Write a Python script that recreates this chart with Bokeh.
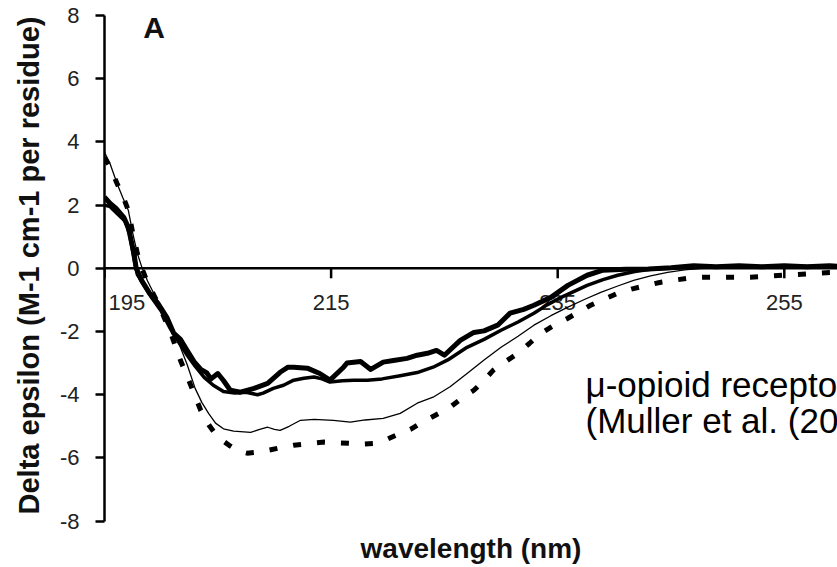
import math
from bokeh.plotting import figure
from bokeh.models import Range1d, FixedTicker, Span, Label
from bokeh.embed import file_html
from bokeh.resources import INLINE
from bokeh.core.properties import value

FONT = "Liberation Sans"

# ---------------- data ----------------
Y_TICKS = [-8, -6, -4, -2, 0, 2, 4, 6, 8]
X_TICKS = [195, 215, 235, 255]
X_TICK_LABELS = ["195", "215", "235", "255"]

# heaviest solid line
W1 = [195.0, 195.5, 196.0, 196.7, 197.1, 197.6, 197.8, 198.3, 199.0, 199.7, 200.5, 201.1,
      201.7, 202.3, 202.9, 203.5, 204.0, 204.4, 205.0, 205.5, 206.1, 207.0, 208.2, 209.4,
      210.5, 211.2, 211.7, 212.9, 214.0, 214.9, 216.1, 216.4, 217.6, 218.5, 219.6, 220.5,
      221.7, 222.6, 223.5, 224.3, 225.0, 226.4, 227.6, 228.5, 229.7, 230.8, 232.0, 232.9,
      234.4, 235.9, 237.6, 239.0, 241.0, 243.0, 245.0, 247.0, 249.0, 251.0, 253.0, 255.0,
      257.0, 259.0, 260.0]
V1 = [2.25, 2.05, 1.9, 1.61, 1.3, 0.47, 0.0, -0.4, -0.8, -1.1, -1.55, -2.05,
      -2.25, -2.6, -2.95, -3.2, -3.3, -3.5, -3.33, -3.55, -3.86, -3.92, -3.8, -3.64,
      -3.29, -3.13, -3.13, -3.16, -3.33, -3.54, -3.13, -3.0, -2.95, -3.2, -2.97, -2.92,
      -2.85, -2.75, -2.69, -2.6, -2.75, -2.28, -2.03, -1.98, -1.8, -1.42, -1.3, -1.17,
      -0.92, -0.54, -0.22, -0.06, -0.03, -0.02, 0.02, 0.08, 0.05, 0.08, 0.05, 0.08,
      0.05, 0.08, 0.06]

# medium solid line
W2 = [195.0, 195.5, 196.2, 196.8, 197.2, 197.6, 197.9, 198.5, 199.2, 200.0, 200.8, 201.5,
      202.3, 203.0, 203.8, 204.6, 205.5, 206.5, 207.5, 208.5, 209.0, 209.9, 210.8, 211.7,
      212.6, 213.5, 214.2, 214.9, 216.0, 217.0, 218.2, 219.5, 221.1, 222.6, 224.0, 225.3,
      227.0, 228.5, 230.0, 231.5, 232.9, 234.1, 235.3, 236.5, 237.6, 239.0, 240.3, 241.8,
      243.2, 245.0, 248.0, 251.0, 254.0, 257.0, 260.0]
V2 = [2.0, 1.95, 1.7, 1.5, 1.1, 0.3, -0.2, -0.55, -0.95, -1.35, -1.9, -2.3,
      -2.75, -3.1, -3.45, -3.7, -3.9, -3.95, -3.92, -4.0, -3.95, -3.8, -3.7, -3.54,
      -3.48, -3.44, -3.5, -3.6, -3.56, -3.54, -3.54, -3.5, -3.4, -3.3, -3.13, -2.9,
      -2.5, -2.25, -1.96, -1.7, -1.42, -1.15, -0.92, -0.72, -0.54, -0.36, -0.22, -0.1,
      -0.03, 0.0, 0.03, 0.05, 0.05, 0.06, 0.05]

# thin solid line
W3 = [195.0, 195.5, 196.1, 196.6, 197.1, 197.5, 197.9, 198.3, 198.8, 199.5, 200.3, 201.0,
      201.7, 202.3, 203.0, 203.6, 204.2, 204.8, 205.5, 206.4, 207.9, 208.7, 209.4, 210.0,
      210.5, 211.3, 212.3, 213.5, 215.2, 216.7, 218.0, 219.6, 221.1, 222.6, 224.0, 225.5,
      227.0, 228.5, 230.0, 231.5, 232.9, 234.4, 235.9, 237.4, 238.8, 240.3, 241.7, 243.2,
      244.7, 246.2, 247.6, 250.0, 253.0, 256.0, 260.0]
V3 = [3.67, 3.3, 2.69, 2.25, 1.84, 1.1, 0.47, 0.03, -0.4, -0.9, -1.4, -2.0,
      -2.5, -3.05, -3.8, -4.25, -4.6, -4.9, -5.08, -5.15, -5.19, -5.1, -5.03, -5.1,
      -5.13, -5.0, -4.81, -4.78, -4.81, -4.87, -4.8, -4.75, -4.59, -4.27, -4.08, -3.75,
      -3.33, -2.9, -2.5, -2.15, -1.8, -1.5, -1.23, -0.98, -0.76, -0.56, -0.38, -0.24,
      -0.13, -0.05, 0.0, 0.0, 0.02, 0.02, 0.02]

# dashed line
W4 = [195.0, 195.5, 196.1, 196.6, 197.1, 197.5, 197.9, 198.3, 198.8, 199.5, 200.2, 200.9,
      201.7, 202.5, 203.5, 204.2, 205.0, 206.0, 206.8, 207.6, 208.5, 209.4, 210.5, 211.7,
      213.0, 214.4, 215.5, 216.7, 217.8, 218.8, 220.0, 221.1, 222.0, 222.9, 224.2, 225.5,
      226.5, 227.6, 228.5, 229.3, 230.4, 231.5, 232.5, 233.5, 234.7, 235.9, 236.9, 237.9,
      239.1, 240.3, 241.6, 242.9, 244.0, 245.2, 246.4, 247.6, 249.6, 252.0, 254.9, 257.0,
      259.0, 260.0]
V4 = [3.51, 3.2, 2.69, 2.3, 1.84, 1.1, 0.47, 0.0, -0.45, -0.95, -1.5, -2.1,
      -2.91, -3.6, -4.5, -4.95, -5.35, -5.6, -5.78, -5.85, -5.82, -5.76, -5.68, -5.6,
      -5.55, -5.5, -5.52, -5.54, -5.56, -5.54, -5.4, -5.22, -5.1, -4.9, -4.65, -4.4,
      -4.12, -3.86, -3.55, -3.23, -2.95, -2.69, -2.38, -2.06, -1.8, -1.58, -1.37, -1.17,
      -0.98, -0.79, -0.65, -0.54, -0.45, -0.38, -0.32, -0.28, -0.28, -0.28, -0.22, -0.18,
      -0.13, -0.12]

TITLE = "A"
Y_LABEL = "Delta epsilon (M-1 cm-1 per residue)"
X_LABEL = "wavelength (nm)"
NOTE_1 = "\u03bc-opioid receptor"
NOTE_2 = "(Muller et al. (2006))"

# ---------------- layout ----------------
W, H = 837, 567
LEFT = 104
BOTTOM = 37
FRAME_H = H - BOTTOM
X0 = 195.0
PX_PER_X = 11.33
X1 = X0 + (W - LEFT) / PX_PER_X
PX_PER_Y = 31.6
Y_TOP = 8 + 15 / PX_PER_Y
Y_BOT = Y_TOP - FRAME_H / PX_PER_Y


def dx(px):
    return X0 + (px - LEFT) / PX_PER_X


def dy(py):
    return Y_TOP - py / PX_PER_Y


p = figure(width=W, height=H, output_backend="svg", toolbar_location=None,
           x_range=Range1d(X0, X1), y_range=Range1d(Y_BOT, Y_TOP),
           x_axis_location="below", y_axis_location="left",
           min_border_left=LEFT, min_border_right=0, min_border_top=0,
           min_border_bottom=BOTTOM,
           background_fill_color="white", border_fill_color="white")
p.outline_line_color = None
p.grid.visible = False

ax = p.yaxis[0]
ax.ticker = FixedTicker(ticks=Y_TICKS)
ax.bounds = (-8, 8)
ax.major_label_overrides = {t: str(t) for t in Y_TICKS}
ax.axis_line_width = 2.5
ax.axis_line_color = "black"
ax.major_tick_line_width = 2.5
ax.major_tick_line_color = "black"
ax.major_tick_out = 9
ax.major_tick_in = 0
ax.minor_tick_out = 0
ax.minor_tick_in = 0
ax.major_label_standoff = 16
ax.major_label_text_font = FONT
ax.major_label_text_font_size = "22px"
ax.major_label_text_color = "#222222"
ax.axis_label = Y_LABEL
ax.axis_label_text_font = FONT
ax.axis_label_text_font_style = "bold"
ax.axis_label_text_font_size = "29px"
ax.axis_label_text_color = "#111111"
ax.axis_label_standoff = 12

bx = p.xaxis[0]
bx.ticker = FixedTicker(ticks=[])
bx.axis_line_color = None
bx.major_tick_out = 0
bx.major_tick_in = 0
bx.minor_tick_out = 0
bx.minor_tick_in = 0
bx.major_label_standoff = 0
bx.axis_label = X_LABEL
bx.axis_label_text_font = FONT
bx.axis_label_text_font_style = "bold"
bx.axis_label_text_font_size = "28px"
bx.axis_label_text_color = "#111111"
bx.axis_label_standoff = 2

# x axis through zero
p.add_layout(Span(location=0, dimension="width", line_color="black", line_width=2.5,
                  level="underlay"))
TICK_LEN = 10 / PX_PER_Y
p.segment(x0=X_TICKS, x1=X_TICKS, y0=[0] * len(X_TICKS), y1=[-TICK_LEN] * len(X_TICKS),
          line_color="black", line_width=2.5)
LAB_Y = -34.5 / PX_PER_Y
p.text(x=X_TICKS[1:], y=[LAB_Y] * (len(X_TICKS) - 1), text=X_TICK_LABELS[1:],
       text_align="center", text_baseline="middle", text_font=value(FONT),
       text_font_size="22px", text_color="#222222")
p.text(x=X_TICKS[:1], y=[LAB_Y], text=X_TICK_LABELS[:1], x_offset=4,
       text_align="left", text_baseline="middle", text_font=value(FONT),
       text_font_size="22px", text_color="#222222")

# curves
p.line(W3, V3, line_color="black", line_width=1.3, line_join="round")
p.line(W4, V4, line_color="black", line_width=5, line_dash="8 16", line_cap="butt")
p.line(W2, V2, line_color="black", line_width=3.5, line_join="round")
p.line(W1, V1, line_color="black", line_width=5, line_join="round")

# texts
p.add_layout(Label(x=dx(153.5), y=dy(10), text=TITLE,
                   text_font=FONT, text_font_style="bold", text_font_size="30px",
                   text_align="center", text_baseline="top", text_color="#111111"))
p.add_layout(Label(x=dx(585), y=dy(384), text=NOTE_1,
                   text_font=FONT, text_font_size="35px", text_align="left",
                   text_baseline="middle", text_color="black"))
p.add_layout(Label(x=dx(585), y=dy(420), text=NOTE_2,
                   text_font=FONT, text_font_size="35px", text_align="left",
                   text_baseline="middle", text_color="black"))

open("out.html", "w").write(file_html(p, INLINE))
